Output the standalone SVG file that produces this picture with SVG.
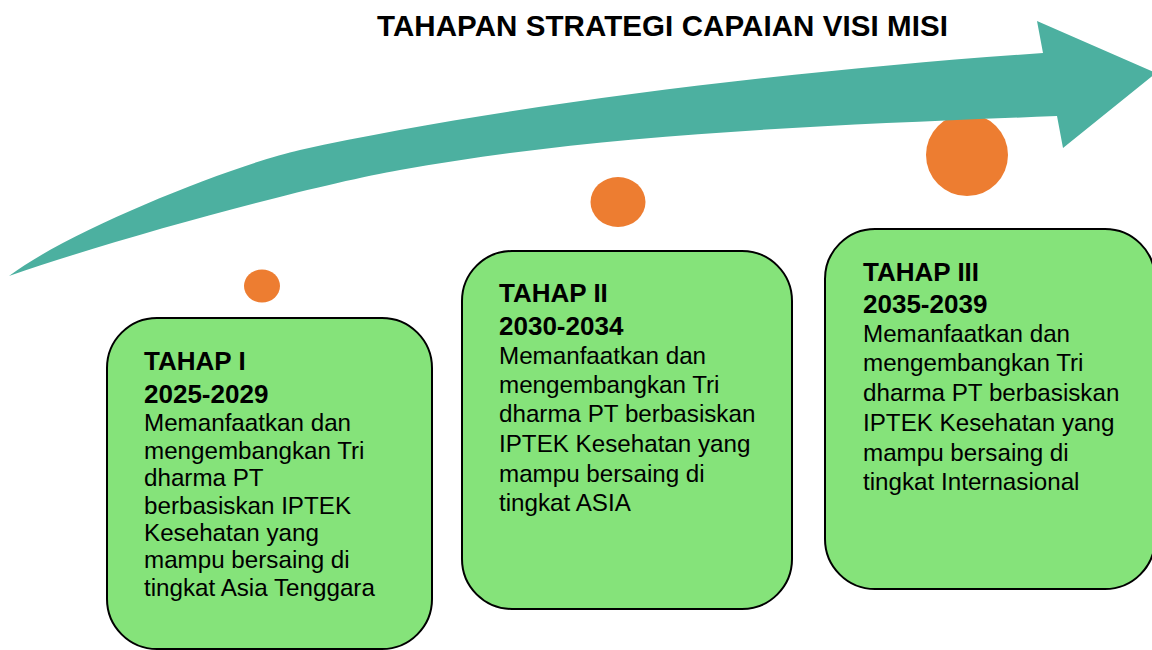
<svg xmlns="http://www.w3.org/2000/svg" width="1152" height="650" viewBox="0 0 1152 650">
<style>
.title{font-family:"Liberation Sans",Arial,sans-serif;font-weight:bold;font-size:29.5px;fill:#000}
.box{fill:#85E37A;stroke:#000;stroke-width:2}
.dot{fill:#ED7D31}
.arrow{fill:#4CB0A0}
.hd{font-family:"Liberation Sans",Arial,sans-serif;font-weight:bold;font-size:26px;fill:#000}
.tx{font-family:"Liberation Sans",Arial,sans-serif;font-size:24.2px;fill:#000}
</style>
<rect width="1152" height="650" fill="#fff"/>
<text class="title" x="377" y="36" textLength="571">TAHAPAN STRATEGI CAPAIAN VISI MISI</text>
<g id="dots">
<ellipse id="dot1" class="dot" cx="262" cy="286" rx="18" ry="16.5"/>
<ellipse id="dot2" class="dot" cx="618" cy="202" rx="27.5" ry="25"/>
<ellipse id="dot3" class="dot" cx="967" cy="155" rx="41" ry="41"/>
</g>
<g id="arrow">
<path class="arrow" d="M 9 276 C 70 230 230 166 300 150 C 500 106 793 70 1043 53 L 1037 21 L 1156 73 L 1063 148 L 1057 116 C 807 126 600 134 400 170 C 320 184 130 234 9 276 Z"/>
</g>
<g id="tahap1">
<rect class="box" x="107" y="318" width="325" height="331" rx="50" ry="50"/>
<text class="hd" x="144" y="370">TAHAP I</text>
<text class="hd" x="144" y="403">2025-2029</text>
<text class="tx" x="144" y="431">Memanfaatkan dan</text>
<text class="tx" x="144" y="459">mengembangkan Tri</text>
<text class="tx" x="144" y="486">dharma PT</text>
<text class="tx" x="144" y="514">berbasiskan IPTEK</text>
<text class="tx" x="144" y="541">Kesehatan yang</text>
<text class="tx" x="144" y="568">mampu bersaing di</text>
<text class="tx" x="144" y="596">tingkat Asia Tenggara</text>
</g>
<g id="tahap2">
<rect class="box" x="462" y="251" width="330" height="358" rx="50" ry="50"/>
<text class="hd" x="499" y="302">TAHAP II</text>
<text class="hd" x="499" y="335">2030-2034</text>
<text class="tx" x="499" y="364">Memanfaatkan dan</text>
<text class="tx" x="499" y="393">mengembangkan Tri</text>
<text class="tx" x="499" y="422">dharma PT berbasiskan</text>
<text class="tx" x="499" y="452">IPTEK Kesehatan yang</text>
<text class="tx" x="499" y="482">mampu bersaing di</text>
<text class="tx" x="499" y="511">tingkat ASIA</text>
</g>
<g id="tahap3">
<rect class="box" x="825" y="229" width="330" height="360" rx="50" ry="50"/>
<text class="hd" x="863" y="281">TAHAP III</text>
<text class="hd" x="863" y="313">2035-2039</text>
<text class="tx" x="863" y="342">Memanfaatkan dan</text>
<text class="tx" x="863" y="371">mengembangkan Tri</text>
<text class="tx" x="863" y="401">dharma PT berbasiskan</text>
<text class="tx" x="863" y="431">IPTEK Kesehatan yang</text>
<text class="tx" x="863" y="461">mampu bersaing di</text>
<text class="tx" x="863" y="490">tingkat Internasional</text>
</g>
<g id="connectors"/>
</svg>
